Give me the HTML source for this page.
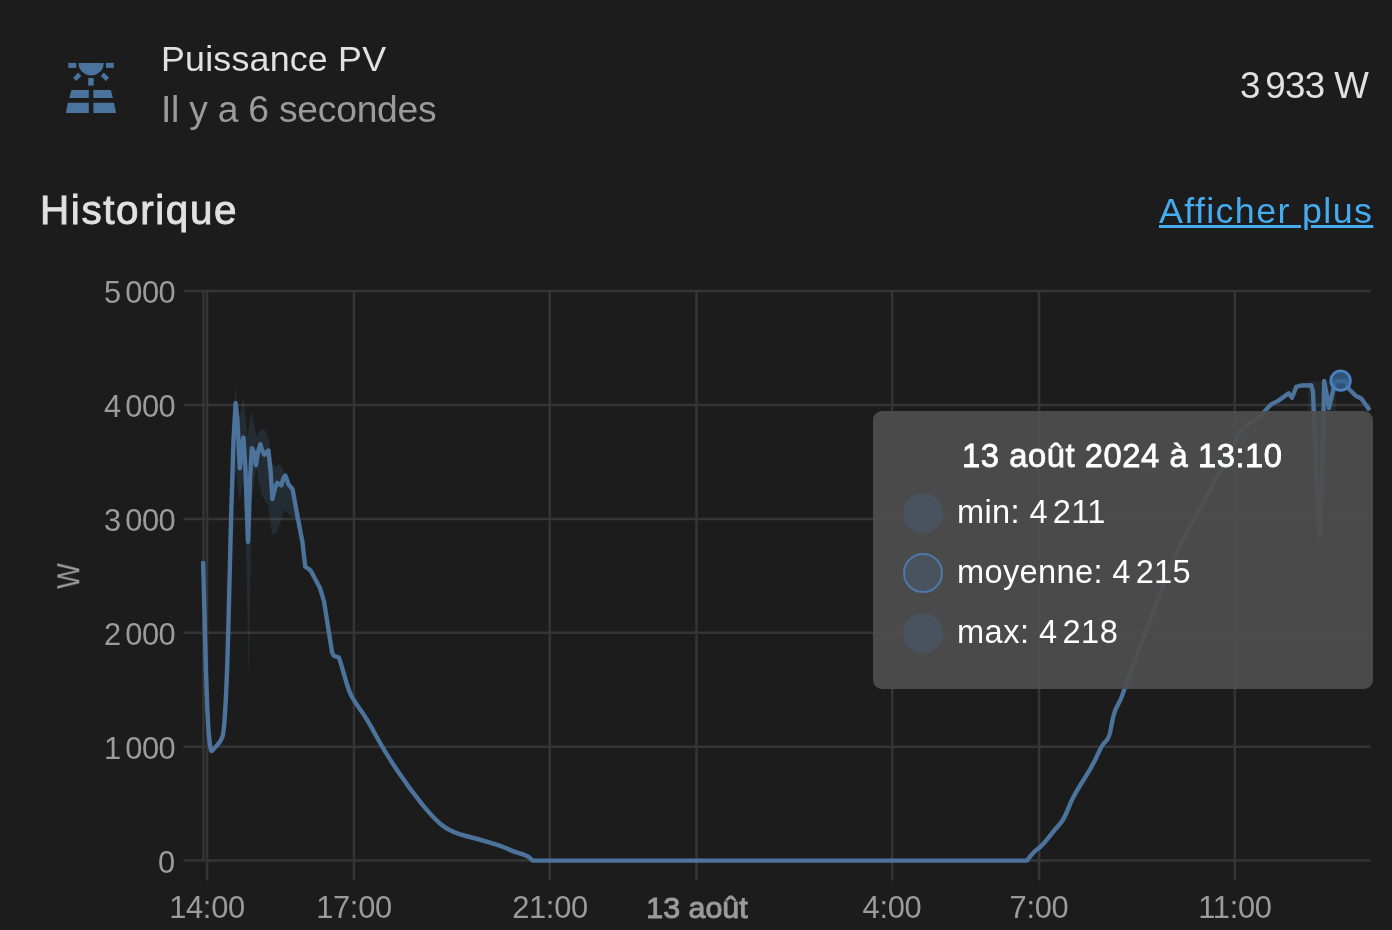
<!DOCTYPE html>
<html><head><meta charset="utf-8"><style>
html,body{margin:0;padding:0;}
div{will-change:transform;}
body{width:1392px;height:930px;overflow:hidden;background:#1c1c1c;position:relative;font-family:"Liberation Sans",sans-serif;}
</style></head><body>
<svg width="1392" height="930" viewBox="0 0 1392 930" style="position:absolute;left:0;top:0">
<g fill="#4a739e">
<rect x="68.3" y="62.9" width="7.9" height="5"/>
<rect x="106" y="62.9" width="7.8" height="5"/>
<path d="M78.45 62.9 H103.7 A12.625 12.625 0 0 1 78.45 62.9 Z"/>
<polygon points="73.1,77.7 78.2,72.5 81.3,76 76.2,81.1"/>
<polygon points="109.06,77.7 103.9,72.5 100.8,76 105.97,81.1"/>
<rect x="88.2" y="78" width="5.5" height="7.6"/>
<polygon points="71.4,90.1 88.8,90.1 88.8,98 69.3,98"/>
<polygon points="93.4,90.1 110.9,90.1 112.9,98 93.4,98"/>
<polygon points="67.9,102.8 88.8,102.8 88.8,113.1 65.85,113.1"/>
<polygon points="93.4,102.8 114,102.8 116.1,113.1 93.4,113.1"/>
</g></svg>
<div style="position:absolute;left:160.84px;top:41.57px;font-size:35.80px;line-height:35.80px;letter-spacing:0.200px;color:#e1e1e1;font-weight:400;white-space:nowrap;">Puissance PV</div>
<div style="position:absolute;left:161.10px;top:91.14px;font-size:37.25px;line-height:37.25px;letter-spacing:-0.240px;color:#9b9b9b;font-weight:400;white-space:nowrap;">Il y a 6 secondes</div>
<div style="position:absolute;left:1239.83px;top:67.50px;font-size:36.67px;line-height:36.67px;letter-spacing:-0.600px;color:#e1e1e1;font-weight:400;white-space:nowrap;">3<span style="display:inline-block;width:0.15em"></span>933 W</div>
<div style="position:absolute;left:40.00px;top:190.30px;font-size:40.40px;line-height:40.40px;letter-spacing:1.630px;color:#e1e1e1;font-weight:400;white-space:nowrap;-webkit-text-stroke:0.9px #e1e1e1;">Historique</div>
<div style="position:absolute;left:1159.30px;top:193.70px;font-size:35.80px;line-height:35.80px;letter-spacing:1.380px;color:#45acf0;font-weight:400;white-space:nowrap;text-decoration:underline;text-decoration-thickness:3px;text-underline-offset:2px;">Afficher plus</div>
<div style="position:absolute;right:1217.20px;top:847.60px;font-size:30.80px;line-height:30.80px;letter-spacing:-0.500px;color:#9b9b9b;font-weight:400;white-space:nowrap;">0</div>
<div style="position:absolute;right:1217.20px;top:733.70px;font-size:30.80px;line-height:30.80px;letter-spacing:-0.500px;color:#9b9b9b;font-weight:400;white-space:nowrap;">1<span style="display:inline-block;width:0.15em"></span>000</div>
<div style="position:absolute;right:1217.20px;top:619.80px;font-size:30.80px;line-height:30.80px;letter-spacing:-0.500px;color:#9b9b9b;font-weight:400;white-space:nowrap;">2<span style="display:inline-block;width:0.15em"></span>000</div>
<div style="position:absolute;right:1217.20px;top:505.90px;font-size:30.80px;line-height:30.80px;letter-spacing:-0.500px;color:#9b9b9b;font-weight:400;white-space:nowrap;">3<span style="display:inline-block;width:0.15em"></span>000</div>
<div style="position:absolute;right:1217.20px;top:392.00px;font-size:30.80px;line-height:30.80px;letter-spacing:-0.500px;color:#9b9b9b;font-weight:400;white-space:nowrap;">4<span style="display:inline-block;width:0.15em"></span>000</div>
<div style="position:absolute;right:1217.20px;top:278.10px;font-size:30.80px;line-height:30.80px;letter-spacing:-0.500px;color:#9b9b9b;font-weight:400;white-space:nowrap;">5<span style="display:inline-block;width:0.15em"></span>000</div>
<div style="position:absolute;left:206.95px;top:893.00px;width:0;font-size:30.87px;line-height:30.87px;color:#9b9b9b;font-weight:400;white-space:nowrap;"><span style="position:absolute;left:0;top:0;transform:translateX(-50%);letter-spacing:-0.300px;">14:00</span></div>
<div style="position:absolute;left:353.77px;top:893.00px;width:0;font-size:30.87px;line-height:30.87px;color:#9b9b9b;font-weight:400;white-space:nowrap;"><span style="position:absolute;left:0;top:0;transform:translateX(-50%);letter-spacing:-0.300px;">17:00</span></div>
<div style="position:absolute;left:549.53px;top:893.00px;width:0;font-size:30.87px;line-height:30.87px;color:#9b9b9b;font-weight:400;white-space:nowrap;"><span style="position:absolute;left:0;top:0;transform:translateX(-50%);letter-spacing:-0.300px;">21:00</span></div>
<div style="position:absolute;left:696.50px;top:892.00px;width:0;font-size:30.40px;line-height:30.40px;color:#9b9b9b;font-weight:400;white-space:nowrap;-webkit-text-stroke:1px #9b9b9b;"><span style="position:absolute;left:0;top:0;transform:translateX(-50%);letter-spacing:0.000px;">13 août</span></div>
<div style="position:absolute;left:892.11px;top:893.00px;width:0;font-size:30.87px;line-height:30.87px;color:#9b9b9b;font-weight:400;white-space:nowrap;"><span style="position:absolute;left:0;top:0;transform:translateX(-50%);letter-spacing:-0.300px;">4:00</span></div>
<div style="position:absolute;left:1038.93px;top:893.00px;width:0;font-size:30.87px;line-height:30.87px;color:#9b9b9b;font-weight:400;white-space:nowrap;"><span style="position:absolute;left:0;top:0;transform:translateX(-50%);letter-spacing:-0.300px;">7:00</span></div>
<div style="position:absolute;left:1234.69px;top:893.00px;width:0;font-size:30.87px;line-height:30.87px;color:#9b9b9b;font-weight:400;white-space:nowrap;"><span style="position:absolute;left:0;top:0;transform:translateX(-50%);letter-spacing:-0.300px;">11:00</span></div>
<div style="position:absolute;left:69.2px;top:576.2px;width:0;height:0;"><div style="position:absolute;left:0;top:0;transform:translate(-50%,-50%) rotate(-90deg) scaleX(0.86);font-size:31.5px;line-height:31.5px;color:#9b9b9b;">W</div></div>
<svg width="1392" height="930" viewBox="0 0 1392 930" style="position:absolute;left:0;top:0">
<line x1="183.4" y1="860.6" x2="1370.4" y2="860.6" stroke="#353535" stroke-width="2.5"/>
<line x1="183.4" y1="746.7" x2="1370.4" y2="746.7" stroke="#353535" stroke-width="2.5"/>
<line x1="183.4" y1="632.8" x2="1370.4" y2="632.8" stroke="#353535" stroke-width="2.5"/>
<line x1="183.4" y1="518.9" x2="1370.4" y2="518.9" stroke="#353535" stroke-width="2.5"/>
<line x1="183.4" y1="405.0" x2="1370.4" y2="405.0" stroke="#353535" stroke-width="2.5"/>
<line x1="183.4" y1="291.1" x2="1370.4" y2="291.1" stroke="#353535" stroke-width="2.5"/>
<line x1="203.5" y1="291.1" x2="203.5" y2="860.6" stroke="#353535" stroke-width="2.5"/>
<line x1="207.1" y1="291.1" x2="207.1" y2="880.6" stroke="#353535" stroke-width="2.5"/>
<line x1="353.9" y1="291.1" x2="353.9" y2="880.6" stroke="#353535" stroke-width="2.5"/>
<line x1="549.7" y1="291.1" x2="549.7" y2="880.6" stroke="#353535" stroke-width="2.5"/>
<line x1="696.5" y1="291.1" x2="696.5" y2="880.6" stroke="#353535" stroke-width="2.5"/>
<line x1="892.3" y1="291.1" x2="892.3" y2="880.6" stroke="#353535" stroke-width="2.5"/>
<line x1="1039.1" y1="291.1" x2="1039.1" y2="880.6" stroke="#353535" stroke-width="2.5"/>
<line x1="1234.8" y1="291.1" x2="1234.8" y2="880.6" stroke="#353535" stroke-width="2.5"/>
<path d="M229.7 520.0 L233.0 440.0 L235.3 382.1 L238.5 423.2 L243.4 396.6 L247.4 437.7 L251.5 411.1 L256.3 437.7 L258.5 432.0 L261.3 429.2 L265.0 430.0 L269.3 440.0 L272.0 461.4 L276.0 466.8 L280.0 464.0 L284.0 472.0 L290.8 488.0 L296.0 510.0 L296.0 520.0 L290.0 515.0 L284.0 510.0 L280.0 523.3 L276.0 534.0 L272.0 534.0 L268.0 505.0 L262.6 496.4 L258.0 480.0 L256.3 466.8 L252.0 500.0 L248.5 682.0 L246.5 560.0 L243.0 480.0 L239.7 501.8 L236.0 470.0 L232.0 520.0Z" fill="#4c739c" fill-opacity="0.19"/>
<path d="M1308.0 381.0 L1336.0 381.0 L1336.0 412.0 L1326.0 412.0 L1319.6 545.0 L1313.0 412.0 L1308.0 412.0Z" fill="#4c739c" fill-opacity="0.13"/>
<path d="M203.1 561.1 L204.4 610.0 L205.1 640.5 Q205.8 671.0 206.9 698.0 L206.9 698.0 Q207.9 725.0 209.2 738.5 L209.2 738.5 Q210.6 751.9 211.8 751.0 L211.8 751.0 Q213.0 750.0 217.4 744.9 L217.4 744.9 Q221.9 739.8 222.9 735.1 L222.9 735.1 Q224.0 730.4 225.2 710.2 L225.2 710.2 Q226.5 690.0 227.6 653.8 L228.6 617.5 L231.3 510.0 L233.5 440.0 L235.6 403.1 L237.5 420.0 L239.8 468.4 L241.5 450.0 L243.4 437.7 L245.5 470.0 L248.0 542.0 L250.0 480.0 L251.8 448.2 L254.0 452.0 L256.0 465.2 L258.0 452.0 L260.3 444.2 L262.0 450.0 L264.4 454.7 L266.5 452.0 L268.4 450.6 L270.5 470.0 L272.4 499.0 L275.0 488.0 L277.3 482.9 L281.3 485.3 L283.5 478.0 L285.3 475.6 L287.0 480.0 L288.5 484.5 L292.6 489.4 L298.2 520.0 L302.5 542.3 L305.2 566.5 L310.6 570.5 L320.0 588.0 L324.0 601.4 L332.1 652.5 L334.0 656.0 L338.7 657.3 L339.4 658.9 Q340.2 660.5 344.4 675.6 L344.4 675.6 Q348.6 690.7 351.6 696.2 L351.6 696.2 Q354.7 701.8 360.9 710.5 L360.9 710.5 Q367.1 719.1 375.8 735.2 L375.8 735.2 Q384.4 751.3 396.8 769.8 L396.8 769.8 Q409.1 788.4 422.8 805.1 L422.8 805.1 Q436.4 821.8 445.0 827.3 L445.0 827.3 Q453.7 832.9 466.0 836.0 L466.0 836.0 Q478.4 839.1 490.8 842.8 L490.8 842.8 Q503.1 846.5 508.1 849.0 L508.1 849.0 Q513.0 851.5 519.8 853.4 L519.8 853.4 Q526.6 855.2 529.7 857.9 L532.8 860.6 L1026.9 860.6 L1030.8 855.7 Q1034.8 850.7 1038.2 848.5 L1038.2 848.5 Q1041.6 846.2 1048.3 837.8 L1048.3 837.8 Q1055.1 829.3 1059.7 824.2 L1059.7 824.2 Q1064.2 819.1 1067.6 810.1 L1067.6 810.1 Q1070.9 801.1 1075.5 793.2 L1075.5 793.2 Q1080.0 785.3 1086.2 775.7 L1086.2 775.7 Q1092.4 766.1 1097.5 754.8 L1097.5 754.8 Q1102.6 743.5 1105.9 741.2 L1105.9 741.2 Q1109.3 739.0 1111.5 725.5 L1111.5 725.5 Q1113.8 711.9 1117.2 706.2 L1117.2 706.2 Q1120.6 700.6 1122.8 693.9 L1122.8 693.9 Q1125.1 687.1 1130.2 673.5 L1130.2 673.5 Q1135.3 660.0 1138.6 650.8 L1138.6 650.8 Q1141.9 641.5 1151.1 617.8 L1151.1 617.8 Q1160.2 594.0 1167.5 573.9 L1167.5 573.9 Q1174.8 553.8 1185.8 533.7 L1185.8 533.7 Q1196.8 513.6 1202.3 504.5 L1202.3 504.5 Q1207.8 495.3 1213.2 484.3 L1213.2 484.3 Q1218.7 473.3 1222.3 467.9 L1222.3 467.9 Q1226.0 462.4 1232.4 447.8 L1232.4 447.8 Q1238.8 433.1 1241.5 429.5 L1241.5 429.5 Q1244.3 425.8 1251.6 422.1 L1251.6 422.1 Q1258.9 418.5 1262.5 414.0 L1262.5 414.0 Q1266.1 409.5 1268.8 406.8 L1271.5 404.1 L1278.0 400.9 L1288.7 393.3 L1292.0 397.7 L1296.3 386.9 L1300.6 385.5 L1311.3 385.2 L1313.0 392.0 L1316.5 480.0 L1319.6 535.3 L1322.3 470.0 L1324.2 381.0 L1329.0 408.0 L1335.2 381.5 L1346.0 381.0 L1349.0 389.0 L1356.0 396.0 L1361.3 398.5 L1369.7 410.3" fill="none" stroke="#4c739c" stroke-width="4.4" stroke-linejoin="round" stroke-linecap="butt"/>
<circle cx="1340.6" cy="380.6" r="9.8" fill="#36608f" fill-opacity="0.8" stroke="#4a80bd" stroke-width="2.8"/>
</svg>
<div style="position:absolute;left:873px;top:411px;width:500px;height:278px;background:rgba(78,78,78,0.92);border-radius:9px;"></div>
<div style="position:absolute;left:961.51px;top:440.36px;font-size:32.75px;line-height:32.75px;letter-spacing:0.550px;color:#ffffff;font-weight:400;white-space:nowrap;-webkit-text-stroke:0.8px #fff;">13 août 2024 à 13:10</div>
<div style="position:absolute;left:903px;top:493.0px;width:40px;height:40px;border-radius:50%;background:#48535f;box-sizing:border-box;"></div>
<div style="position:absolute;left:956.51px;top:496.16px;font-size:32.60px;line-height:32.60px;letter-spacing:0.360px;color:#ffffff;font-weight:400;white-space:nowrap;">min: 4<span style="display:inline-block;width:0.15em"></span>211</div>
<div style="position:absolute;left:903px;top:553.1px;width:40px;height:40px;border-radius:50%;background:#48535f;box-sizing:border-box;border:2.5px solid #4e78a8;"></div>
<div style="position:absolute;left:956.73px;top:556.00px;font-size:32.60px;line-height:32.60px;letter-spacing:0.350px;color:#ffffff;font-weight:400;white-space:nowrap;">moyenne: 4<span style="display:inline-block;width:0.15em"></span>215</div>
<div style="position:absolute;left:903px;top:613.2px;width:40px;height:40px;border-radius:50%;background:#48535f;box-sizing:border-box;"></div>
<div style="position:absolute;left:956.72px;top:616.10px;font-size:32.60px;line-height:32.60px;letter-spacing:0.470px;color:#ffffff;font-weight:400;white-space:nowrap;">max: 4<span style="display:inline-block;width:0.15em"></span>218</div>
</body></html>
